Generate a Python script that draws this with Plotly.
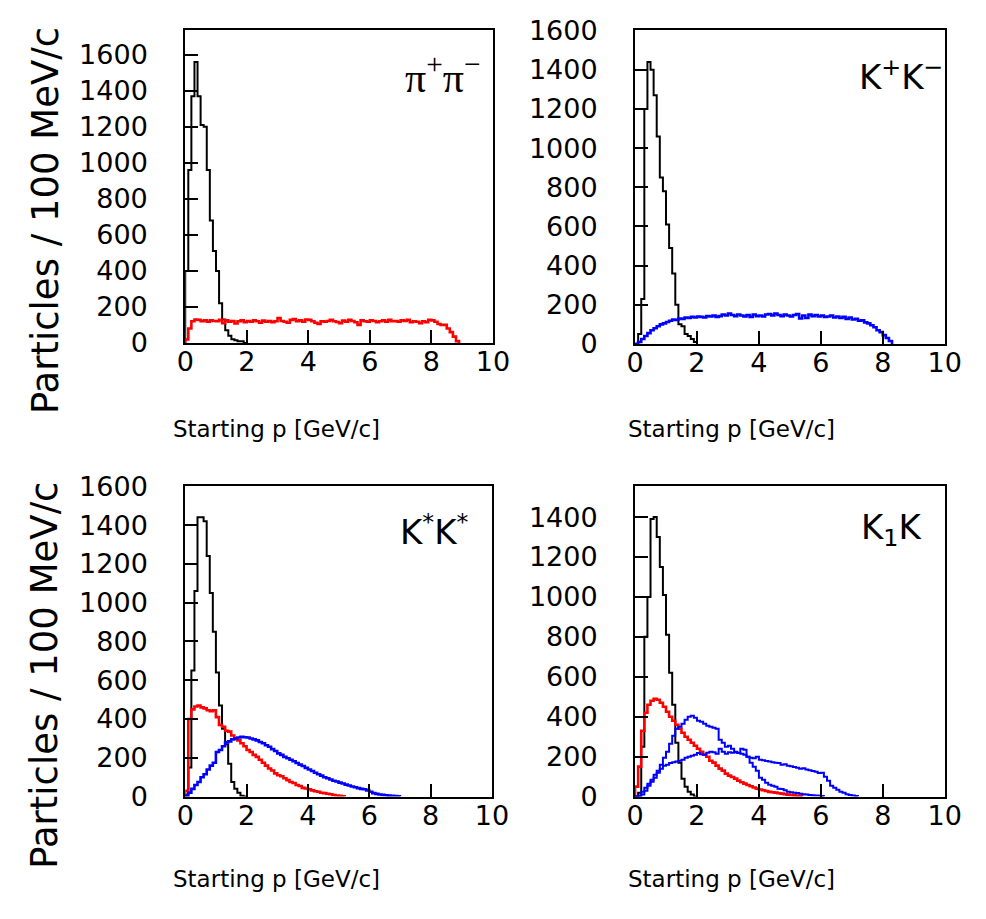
import plotly.graph_objects as go

W, H = 986, 919
BIN_GEV = 0.1  # 100 MeV bins

# ---- data (counts per 100 MeV bin, starting at p = 0) ----
pipi_black = [400, 960, 1370, 1560, 1370, 1210, 1200, 960, 680, 510, 400, 220, 130, 70, 40, 20, 15, 10, 10, 0]
pipi_red = [20, 80, 120, 130, 128, 120, 125, 118, 125, 122, 120, 128, 110, 125, 118, 122, 108, 120, 125, 115,
            122, 118, 126, 120, 112, 124, 118, 122, 115, 120, 138, 122, 118, 112, 128, 132, 120, 125, 118, 130,
            128, 120, 112, 105, 120, 118, 122, 128, 120, 116, 110, 124, 118, 128, 122, 115, 100, 125, 120, 118,
            126, 122, 115, 120, 125, 118, 128, 120, 122, 118, 125, 122, 128, 115, 120, 118, 110, 120, 115, 128,
            125, 118, 105, 100, 100, 80, 60, 35, 10]

kk_black = [0, 50, 230, 1200, 1440, 1400, 1270, 1060, 850, 780, 610, 490, 360, 200, 100, 90, 50, 40, 25, 10]
kk_blue = [0, 10, 25, 40, 55, 70, 80, 90, 100, 105, 112, 118, 125, 122, 130, 128, 135, 132, 138, 135,
           140, 138, 135, 142, 140, 145, 138, 142, 150, 145, 155, 148, 142, 150, 145, 140, 148, 138, 150, 142,
           145, 140, 150, 152, 145, 155, 148, 142, 150, 145, 140, 148, 152, 130, 145, 132, 150, 142, 148, 140,
           145, 138, 140, 145, 135, 140, 132, 138, 128, 135, 125, 128, 118, 120, 110, 105, 95, 85, 70, 60,
           45, 30, 15]

kskss_black = [10, 150, 650, 1060, 1440, 1440, 1420, 1240, 1050, 850, 640, 470, 350, 270, 170, 75, 40, 20, 5, 0]
kskss_red = [30, 400, 450, 465, 470, 460, 455, 445, 440, 445, 410, 370, 360, 340, 335, 315, 300, 290, 275, 260,
             240, 230, 215, 205, 190, 175, 160, 145, 135, 120, 110, 105, 95, 85, 75, 70, 60, 55, 45, 42,
             38, 32, 28, 25, 20, 18, 15, 12, 8, 6, 4, 2]
kskss_blue = [5, 20, 40, 60, 75, 100, 115, 140, 160, 175, 230, 240, 260, 280, 285, 295, 300, 305, 308, 306,
              305, 300, 295, 290, 282, 275, 265, 257, 245, 235, 223, 215, 205, 198, 190, 182, 173, 165, 158, 148,
              140, 132, 123, 115, 108, 100, 95, 88, 82, 78, 72, 68, 62, 57, 52, 48, 44, 40, 38, 32,
              25, 18, 14, 11, 9, 7, 5, 4, 3, 2]

k1k_black = [0, 20, 250, 800, 1000, 1390, 1400, 1300, 1150, 1010, 810, 620, 460, 270, 170, 90, 50, 25, 10, 0]
k1k_red = [50, 150, 330, 420, 460, 480, 490, 485, 470, 450, 425, 400, 380, 360, 340, 320, 300, 285, 270, 255,
           240, 225, 210, 200, 180, 170, 155, 140, 130, 115, 105, 98, 90, 80, 72, 65, 58, 52, 46, 40,
           36, 32, 28, 24, 22, 20, 17, 15, 12, 10, 8, 6, 4, 2]
k1k_blue_a = [0, 5, 25, 45, 65, 85, 110, 130, 160, 195, 225, 265, 305, 340, 350, 365, 385, 400, 405, 395,
              380, 375, 365, 355, 350, 345, 340, 285, 270, 250, 255, 240, 225, 220, 240, 235, 200, 170, 150, 130,
              95, 85, 70, 60, 55, 50, 40, 38, 32, 25, 22, 20, 18, 15, 12, 10, 8, 7, 6, 5, 3]
k1k_blue_b = [0, 0, 10, 30, 55, 75, 95, 120, 140, 155, 160, 168, 172, 176, 180, 185, 195, 200, 205, 210,
              218, 212, 210, 220, 225, 222, 215, 240, 225, 215, 222, 220, 222, 218, 215, 210, 200, 195, 192, 200,
              185, 182, 178, 176, 172, 170, 168, 160, 162, 155, 152, 148, 145, 140, 142, 136, 132, 128, 125, 118,
              120, 100, 80, 55, 45, 35, 25, 20, 12, 8, 5, 3]

x_tick_vals = [0, 2, 4, 6, 8, 10]
y_tick_vals = [0, 200, 400, 600, 800, 1000, 1200, 1400, 1600]

panel_labels = ["π<sup>+</sup>π<sup>−</sup>", "K<sup>+</sup>K<sup>−</sup>",
                "K<sup>*</sup>K<sup>*</sup>", "K<sub>1</sub>K"]
x_title = "Starting p [GeV/c]"
y_title = "Particles / 100 MeV/c"

panels = [
    dict(series=[(pipi_black, "black", 2), (pipi_red, "red", 2.6)], ymax=1740,
         px=(181, 497), py=(15, 339)),
    dict(series=[(kk_black, "black", 2), (kk_blue, "blue", 2.6)], ymax=1601,
         px=(643, 961), py=(16, 340)),
    dict(series=[(kskss_black, "black", 2), (kskss_red, "red", 2.6), (kskss_blue, "blue", 2.6)], ymax=1601,
         px=(181, 496), py=(487, 808)),
    dict(series=[(k1k_black, "black", 2), (k1k_red, "red", 2.6), (k1k_blue_a, "blue", 2),
                 (k1k_blue_b, "blue", 2)], ymax=1555,
         px=(643, 961), py=(487, 808)),
]


def hist_outline(values):
    n = len(values)
    edges = [i * BIN_GEV for i in range(n + 1)]
    xs = [edges[0]] + edges[:n] + [edges[n], edges[n]]
    ys = [0] + list(values) + [values[-1], 0]
    return xs, ys


fig = go.Figure()
FONT = "DejaVu Sans"

for i, p in enumerate(panels, start=1):
    xa = "x" if i == 1 else f"x{i}"
    ya = "y" if i == 1 else f"y{i}"
    for vals, col, lw in p["series"]:
        xs, ys = hist_outline(vals)
        fig.add_trace(go.Scatter(x=xs, y=ys, mode="lines", line=dict(color=col, width=lw, shape="hv"),
                                 xaxis=xa, yaxis=ya, showlegend=False, hoverinfo="skip"))
    xkey = "xaxis" if i == 1 else f"xaxis{i}"
    ykey = "yaxis" if i == 1 else f"yaxis{i}"
    fig.layout[xkey] = dict(
        domain=[p["px"][0] / W, p["px"][1] / W], anchor=ya, range=[0, 10],
        tickvals=x_tick_vals, ticks="inside", ticklen=13, tickwidth=2, tickcolor="black",
        showline=True, linecolor="black", linewidth=2, mirror=True, showgrid=False, zeroline=False,
        tickfont=dict(family=FONT, size=27, color="black"), ticklabelstandoff=-6)
    fig.layout[ykey] = dict(
        domain=[1 - p["py"][1] / H, 1 - p["py"][0] / H], anchor=xa, range=[0, p["ymax"]],
        tickvals=y_tick_vals, ticks="inside", ticklen=13, tickwidth=2, tickcolor="black",
        showline=True, linecolor="black", linewidth=2, mirror=True, showgrid=False, zeroline=False,
        tickfont=dict(family=FONT, size=27, color="black"), ticklabelstandoff=30)

annotations = []
label_pos = [(487, 62), (962, 62), (475, 532), (940, 532)]
for (lx, ly), txt in zip(label_pos, panel_labels):
    is_pi = "π" in txt
    annotations.append(dict(text=txt, x=lx / W, y=1 - ly / H, xref="paper", yref="paper",
                            xanchor="right", yanchor="middle", showarrow=False,
                            font=dict(family="Liberation Serif" if is_pi else FONT,
                                      size=42 if is_pi else 34, color="black")))
for cx, cy in [(275, 428), (742, 428), (275, 893), (742, 893)]:
    annotations.append(dict(text=x_title, x=cx / W, y=1 - cy / H, xref="paper", yref="paper",
                            xanchor="center", yanchor="middle", showarrow=False,
                            font=dict(family=FONT, size=23, color="black")))
for cy in [213, 683]:
    annotations.append(dict(text=y_title, x=37 / W, y=1 - cy / H, xref="paper", yref="paper",
                            xanchor="center", yanchor="middle", showarrow=False, textangle=-90,
                            font=dict(family=FONT, size=37, color="black")))

fig.update_layout(width=W, height=H, margin=dict(l=0, r=0, t=0, b=0),
                  paper_bgcolor="white", plot_bgcolor="white", annotations=annotations)

fig.write_html("out.html")
